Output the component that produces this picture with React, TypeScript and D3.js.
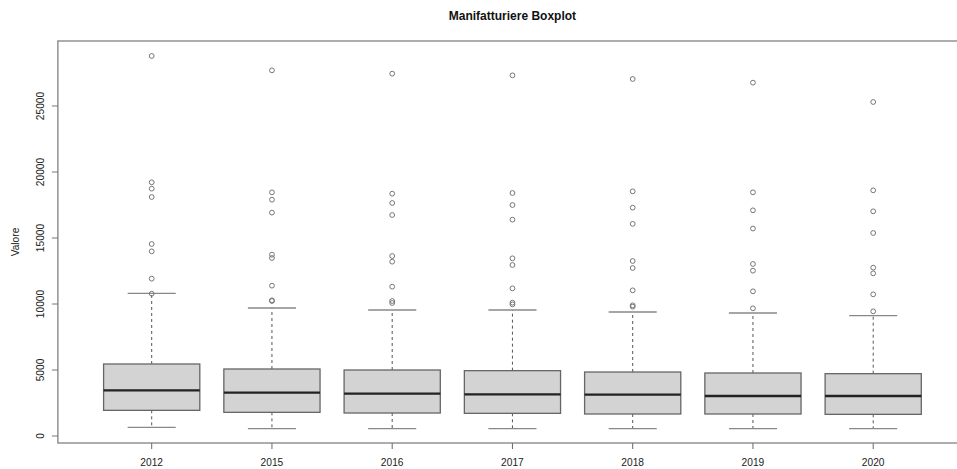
import React from "react";
import * as d3 from "d3";

const years = ["2012", "2015", "2016", "2017", "2018", "2019", "2020"];
const lowerWhisker = [657, 556, 556, 556, 556, 556, 556];
const q1 = [1944, 1793, 1742, 1717, 1667, 1667, 1641];
const median = [3460, 3283, 3207, 3157, 3131, 3030, 3030];
const q3 = [5455, 5076, 5000, 4950, 4848, 4773, 4722];
const upperWhisker = [10810, 9697, 9545, 9545, 9394, 9318, 9116];
const outliers = [
  [28790, 19220, 18740, 18106, 14545, 13990, 11920, 10780],
  [27700, 18460, 17900, 16920, 13737, 13485, 11390, 10280, 10227],
  [27450, 18359, 17650, 16742, 13636, 13207, 11313, 10227, 10076],
  [27323, 18409, 17500, 16389, 13460, 12955, 11187, 10100, 9975],
  [27045, 18535, 17298, 16070, 13258, 12727, 11035, 9899, 9798],
  [26768, 18460, 17096, 15720, 13030, 12525, 10960, 9672],
  [25303, 18611, 17020, 15379, 12753, 12323, 10732, 9444],
];
const yTicks = [0, 5000, 10000, 15000, 20000, 25000];

const W = 957;
const H = 469;
const left = 57.9;
const right = 967;
const top = 41;
const bottom = 443;

export default function App() {
  const n = years.length;
  const x = d3.scaleLinear().domain([0.22, n + 0.78]).range([left, right]);
  const y = d3.scaleLinear().domain([-530, 29924]).range([bottom, top]);
  const unit = x(2) - x(1);
  const boxHalf = unit * 0.4;
  const capHalf = boxHalf * 0.5;
  const font = "'Liberation Sans', Arial, sans-serif";

  return (
    <svg
      width={W}
      height={H}
      style={{ position: "absolute", left: 0, top: 0, background: "#fff" }}
      fontFamily={font}
    >
      <text x={(left + right) / 2} y={20} textAnchor="middle" fontWeight="bold" fontSize={12} fill="#111">
        Manifatturiere Boxplot
      </text>
      {years.map((yr, i) => {
        const cx = x(i + 1);
        return (
          <g key={yr}>
            <line x1={cx} x2={cx} y1={y(q3[i])} y2={y(upperWhisker[i])} stroke="#555" strokeWidth={1} strokeDasharray="3,3" />
            <line x1={cx} x2={cx} y1={y(q1[i])} y2={y(lowerWhisker[i])} stroke="#555" strokeWidth={1} strokeDasharray="3,3" />
            <line x1={cx - capHalf} x2={cx + capHalf} y1={y(upperWhisker[i])} y2={y(upperWhisker[i])} stroke="#888" strokeWidth={1.3} />
            <line x1={cx - capHalf} x2={cx + capHalf} y1={y(lowerWhisker[i])} y2={y(lowerWhisker[i])} stroke="#888" strokeWidth={1.3} />
            <rect
              x={cx - boxHalf}
              y={y(q3[i])}
              width={boxHalf * 2}
              height={y(q1[i]) - y(q3[i])}
              fill="#d3d3d3"
              stroke="#666"
              strokeWidth={1.3}
            />
            <line x1={cx - boxHalf} x2={cx + boxHalf} y1={y(median[i])} y2={y(median[i])} stroke="#222" strokeWidth={2.4} />
            {outliers[i].map((v, j) => (
              <circle key={j} cx={cx} cy={y(v)} r={2.4} fill="none" stroke="#777" strokeWidth={1} />
            ))}
            <line x1={cx} x2={cx} y1={bottom} y2={bottom + 6} stroke="#666" strokeWidth={1} />
            <text x={cx} y={465.5} textAnchor="middle" fontSize={10.2} fill="#222">
              {yr}
            </text>
          </g>
        );
      })}
      <rect x={left} y={top} width={right - left} height={bottom - top} fill="none" stroke="#777" strokeWidth={1.2} />
      {yTicks.map((t) => (
        <g key={t}>
          <line x1={left - 6} x2={left} y1={y(t)} y2={y(t)} stroke="#777" strokeWidth={1} />
          <text
            transform={`translate(43.5,${y(t)}) rotate(-90)`}
            textAnchor="middle"
            fontSize={10.2}
            fill="#222"
          >
            {t}
          </text>
        </g>
      ))}
      <text transform={`translate(18.5,${(top + bottom) / 2}) rotate(-90)`} textAnchor="middle" fontSize={10.2} fill="#222">
        Valore
      </text>
    </svg>
  );
}
